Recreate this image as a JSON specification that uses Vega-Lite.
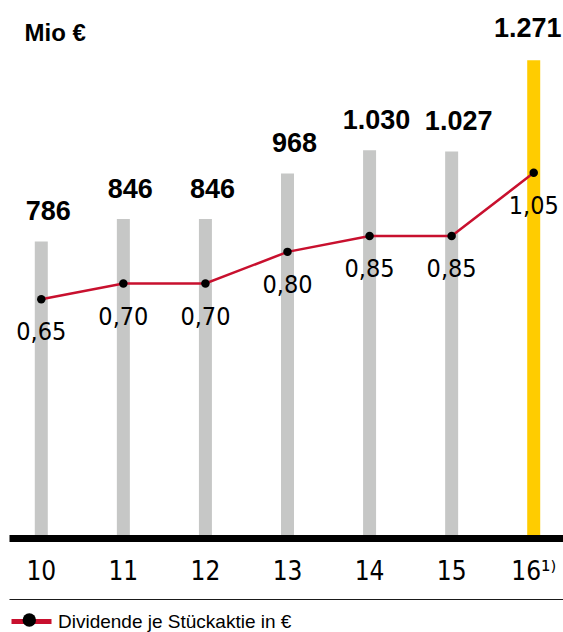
{
  "$schema": "https://vega.github.io/schema/vega-lite/v6.json",
  "width": 557,
  "height": 490,
  "autosize": "none",
  "padding": {"left": 9, "top": 45, "right": 0, "bottom": 97},
  "background": "white",
  "config": {
    "view": {"stroke": null},
    "locale": {"number": {"decimal": ",", "thousands": ".", "grouping": [3], "currency": ["", " €"]}}
  },
  "data": {
    "values": [
      {"year": "10", "ebit": 786, "div": 0.65},
      {"year": "11", "ebit": 846, "div": 0.70},
      {"year": "12", "ebit": 846, "div": 0.70},
      {"year": "13", "ebit": 968, "div": 0.80},
      {"year": "14", "ebit": 1030, "div": 0.85},
      {"year": "15", "ebit": 1027, "div": 0.85},
      {"year": "16¹⁾", "ebit": 1271, "div": 1.05}
    ]
  },
  "layer": [
    {
      "layer": [
        {
          "mark": {"type": "bar", "width": 13},
          "encoding": {
            "x": {
              "field": "year", "type": "nominal", "sort": null,
              "scale": {"paddingInner": 0.5, "paddingOuter": 0.1434},
              "axis": {
                "orient": "bottom", "title": null, "offset": 3,
                "domainColor": "#000000", "domainWidth": 7,
                "ticks": false, "tickSize": 0, "labelAngle": 0,
                "labelBaseline": "alphabetic", "labelPadding": 41,
                "labelFont": "DejaVu Sans Condensed, Roboto, sans-serif", "labelFontSize": 26,
                "labelColor": "#000000", "grid": false
              }
            },
            "y": {
              "field": "ebit", "type": "quantitative",
              "scale": {"domain": [0, 1312], "nice": false, "zero": true},
              "axis": {
                "title": "Mio €", "titleAngle": 0, "titleAlign": "left",
                "titleBaseline": "alphabetic", "titleX": 15, "titleY": -5,
                "titleFont": "Liberation Sans", "titleFontSize": 24, "titleFontWeight": "bold",
                "titleColor": "#000000", "domain": false, "ticks": false, "labels": false, "grid": false
              }
            },
            "color": {
              "condition": {"test": "datum.year === '16¹⁾'", "value": "#ffcc00"},
              "value": "#c6c7c6"
            }
          }
        },
        {
          "transform": [{"filter": "datum.year !== '16¹⁾'"}],
          "mark": {"type": "text", "dx": 7, "dy": -21, "baseline": "alphabetic", "font": "Liberation Sans", "fontSize": 27, "fontWeight": "bold", "color": "#000000"},
          "encoding": {
            "x": {"field": "year", "type": "nominal", "sort": null},
            "y": {"field": "ebit", "type": "quantitative"},
            "text": {"field": "ebit", "type": "quantitative", "format": ",d"}
          }
        },
        {
          "transform": [{"filter": "datum.year === '16¹⁾'"}],
          "mark": {"type": "text", "dx": -6, "dy": -23, "baseline": "alphabetic", "font": "Liberation Sans", "fontSize": 27, "fontWeight": "bold", "color": "#000000"},
          "encoding": {
            "x": {"field": "year", "type": "nominal", "sort": null},
            "y": {"field": "ebit", "type": "quantitative"},
            "text": {"field": "ebit", "type": "quantitative", "format": ",d"}
          }
        }
      ]
    },
    {
      "layer": [
        {
          "mark": {"type": "line", "strokeWidth": 2.5},
          "encoding": {
            "x": {
              "field": "year", "type": "nominal", "sort": null,
              "axis": {
                "orient": "bottom", "title": null, "offset": 64,
                "domainColor": "#1a1a1a", "domainWidth": 1.2,
                "ticks": false, "labels": false, "grid": false
              }
            },
            "y": {
              "field": "div", "type": "quantitative",
              "scale": {"domain": [-0.0948, 1.4538], "nice": false, "zero": false},
              "axis": null
            },
            "stroke": {
              "datum": "Dividende je Stückaktie in €",
              "scale": {"range": ["#c8102e"]},
              "legend": {
                "title": null, "orient": "none", "legendX": 0, "legendY": 554,
                "padding": 0, "symbolType": "stroke", "symbolSize": 1600,
                "symbolStrokeWidth": 5, "symbolOffset": 0, "labelOffset": 4,
                "labelLimit": 500,
                "labelFont": "Liberation Sans", "labelFontSize": 19, "labelColor": "#000000"
              }
            }
          }
        },
        {
          "mark": {"type": "point", "filled": true, "color": "#000000", "size": 72, "opacity": 1},
          "encoding": {
            "x": {"field": "year", "type": "nominal", "sort": null},
            "y": {"field": "div", "type": "quantitative"},
            "shape": {
              "datum": "dot",
              "scale": {"range": ["circle"]},
              "legend": {
                "title": null, "orient": "none", "legendX": 13.3, "legendY": 568,
                "padding": 0, "symbolSize": 180, "symbolFillColor": "#000000",
                "symbolStrokeWidth": 0, "symbolOffset": 0, "labelExpr": "''",
                "labelFontSize": 1, "symbolOpacity": 1
              }
            }
          }
        },
        {
          "mark": {"type": "text", "dy": 33, "baseline": "middle", "font": "DejaVu Sans Condensed, Roboto, sans-serif", "fontSize": 25, "color": "#000000"},
          "encoding": {
            "x": {"field": "year", "type": "nominal", "sort": null},
            "y": {"field": "div", "type": "quantitative"},
            "text": {"field": "div", "type": "quantitative", "format": ".2f"}
          }
        }
      ]
    }
  ],
  "resolve": {"scale": {"y": "independent"}, "axis": {"x": "independent"}}
}
